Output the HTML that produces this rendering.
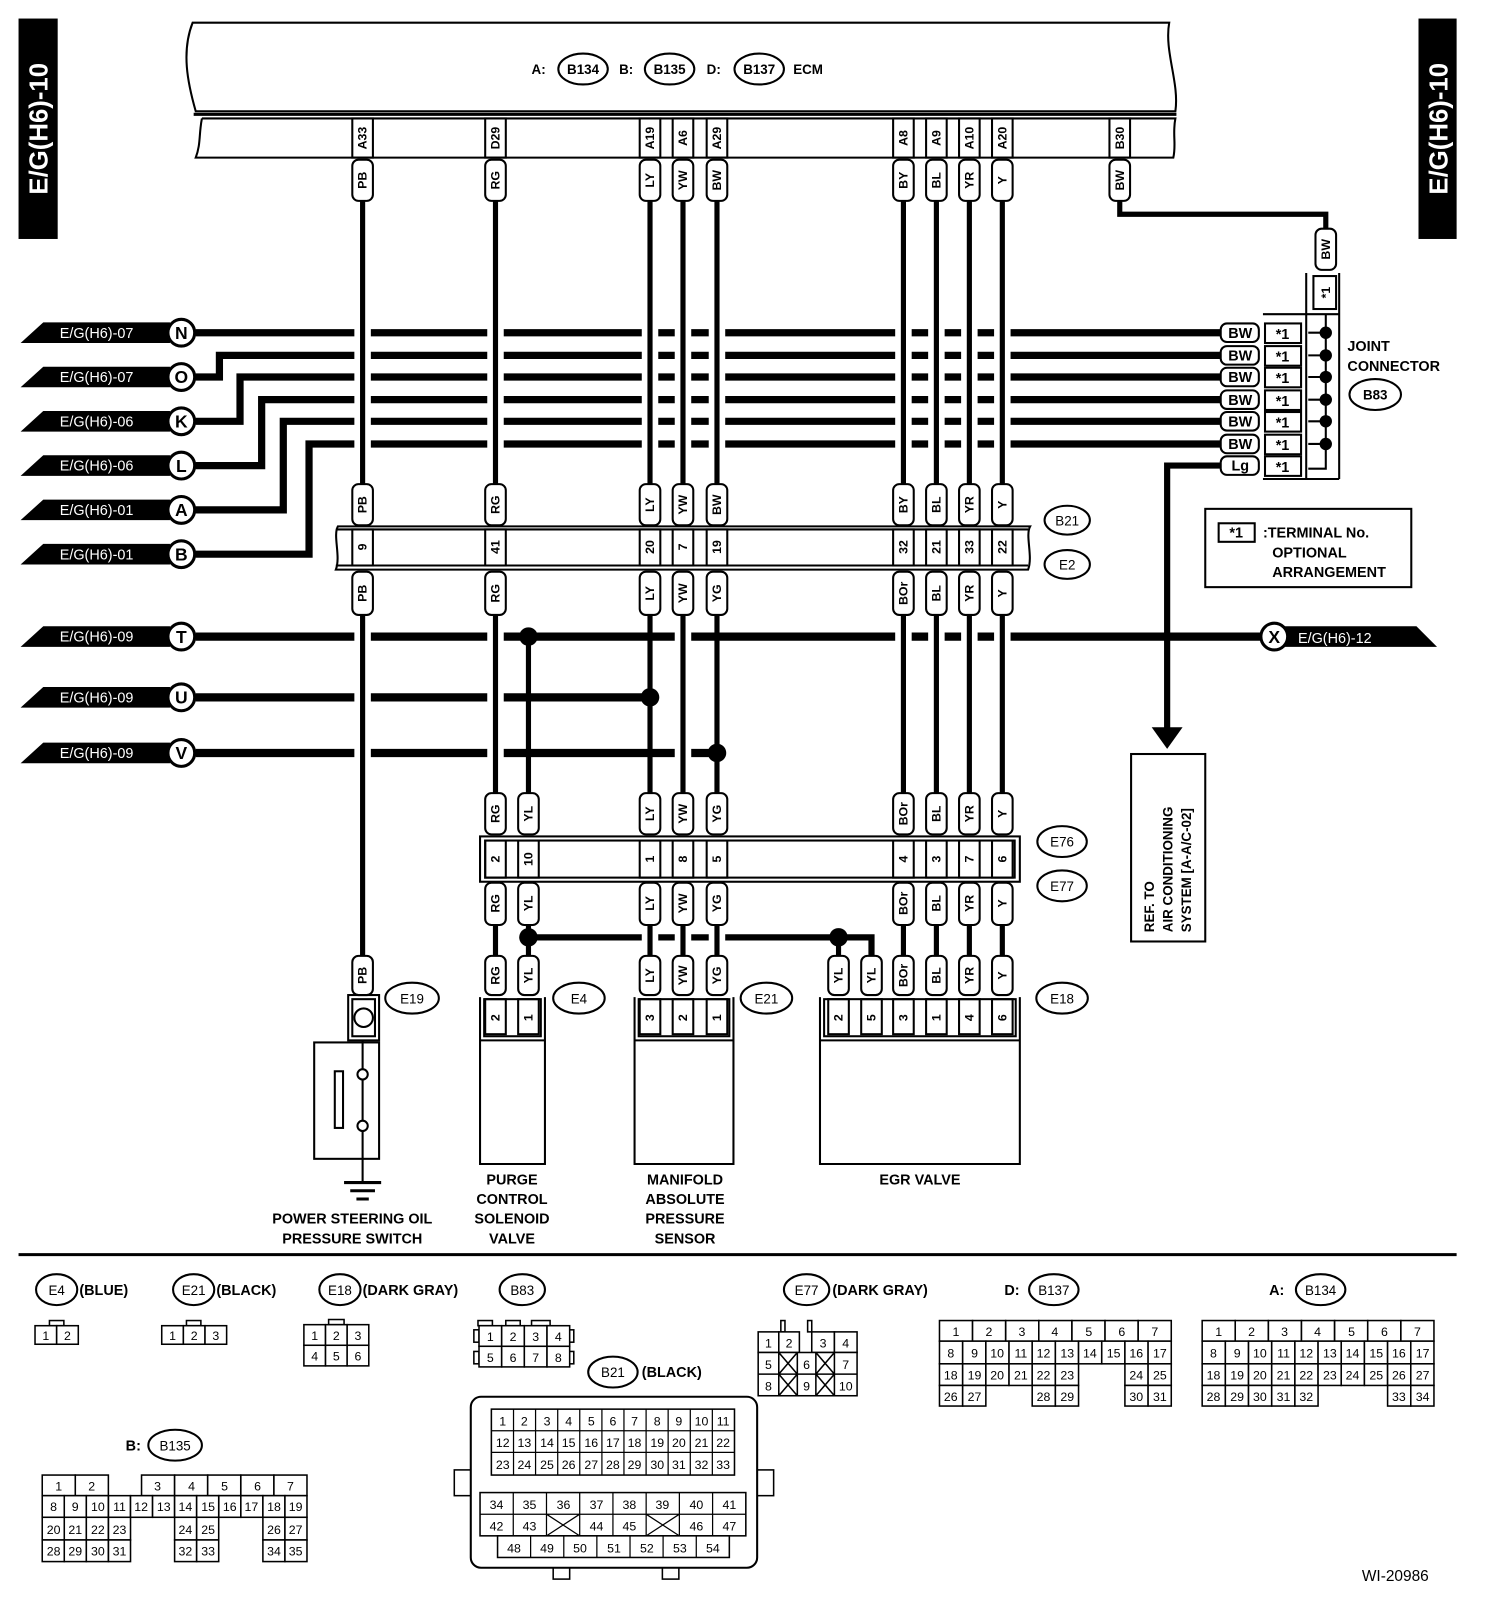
<!DOCTYPE html>
<html><head><meta charset="utf-8"><style>
html,body{margin:0;padding:0;background:#fff}
svg{display:block}
text{font-family:"Liberation Sans",sans-serif;fill:#000}
.t{fill:#fff;stroke:#000;stroke-width:2}
.tx{font-size:12px;font-weight:bold}
.w{stroke:#000;stroke-width:5;fill:none}
.u{stroke:#fff;stroke-width:16;fill:none}
.h{stroke:#000;stroke-width:7;fill:none}
.b{fill:none;stroke:#000;stroke-width:2}
.c{fill:#fff;stroke:#000;stroke-width:1.5}
.g text{font-size:12px;text-anchor:middle}
</style></head><body>
<svg width="1504" height="1610" viewBox="0 0 1460 1563" preserveAspectRatio="none" xmlns="http://www.w3.org/2000/svg">
<!-- side title boxes -->
<rect x="18" y="18" width="38" height="214" fill="#000"/>
<text transform="translate(46,125) rotate(-90)" text-anchor="middle" style="font-size:25px;font-weight:bold;fill:#fff">E/G(H6)-10</text>
<rect x="1377" y="18" width="37" height="214" fill="#000"/>
<text transform="translate(1405,125) rotate(-90)" text-anchor="middle" style="font-size:25px;font-weight:bold;fill:#fff">E/G(H6)-10</text>

<!-- ECM -->
<path d="M187,22 L1135,22 C1130,50 1145,80 1141,108 L190,108 C182,80 176,50 187,22 Z" class="b"/>
<line x1="188" y1="111" x2="1142" y2="111" stroke="#000" stroke-width="3"/>
<path d="M196,115 L1141,115 C1138,130 1142,140 1139,153 L190,153 C195,140 193,130 196,115" class="b"/>
<g font-size="13" font-weight="bold">
<text x="516" y="72">A:</text><ellipse cx="566" cy="67" rx="24" ry="15" class="b"/><text x="566" y="72" text-anchor="middle">B134</text>
<text x="601" y="72">B:</text><ellipse cx="650" cy="67" rx="24" ry="15" class="b"/><text x="650" y="72" text-anchor="middle">B135</text>
<text x="686" y="72">D:</text><ellipse cx="737" cy="67" rx="24" ry="15" class="b"/><text x="737" y="72" text-anchor="middle">B137</text>
<text x="770" y="72">ECM</text>
</g>
<g class="b">
<rect x="342" y="115" width="20" height="38"/><rect x="471" y="115" width="20" height="38"/>
<rect x="621" y="115" width="20" height="38"/><rect x="653" y="115" width="20" height="38"/><rect x="686" y="115" width="20" height="38"/>
<rect x="867" y="115" width="20" height="38"/><rect x="899" y="115" width="20" height="38"/><rect x="931" y="115" width="20" height="38"/><rect x="963" y="115" width="20" height="38"/>
<rect x="1077" y="115" width="20" height="38"/>
</g>
<g class="tx" text-anchor="middle">
<text transform="translate(356,134) rotate(-90)">A33</text><text transform="translate(485,134) rotate(-90)">D29</text>
<text transform="translate(635,134) rotate(-90)">A19</text><text transform="translate(667,134) rotate(-90)">A6</text><text transform="translate(700,134) rotate(-90)">A29</text>
<text transform="translate(881,134) rotate(-90)">A8</text><text transform="translate(913,134) rotate(-90)">A9</text><text transform="translate(945,134) rotate(-90)">A10</text><text transform="translate(977,134) rotate(-90)">A20</text>
<text transform="translate(1091,134) rotate(-90)">B30</text>
</g>

<!-- horizontal bus lines (upper) -->
<path class="h" d="M190,323 H1185"/>
<path class="h" d="M190,366 H213 V345 H1185"/>
<path class="h" d="M190,409 H233 V366 H1185"/>
<path class="h" d="M190,452 H254 V388 H1185"/>
<path class="h" d="M190,495 H275 V409 H1185"/>
<path class="h" d="M190,538 H300 V431 H1185"/>
<path class="h" d="M1185,452 H1133 V708" style="stroke-width:6"/>
<polygon points="1118,706 1148,706 1133,727" fill="#000"/>
<!-- lower bus lines -->
<path class="h" d="M190,618 H1250" style="stroke-width:8"/>
<path class="h" d="M190,677 H631" style="stroke-width:8"/>
<path class="h" d="M190,731 H696" style="stroke-width:8"/>
<path class="h" d="M513,910 H846 V928" style="stroke-width:6"/>

<!-- vertical wires with white underlay -->
<g class="u">
<path d="M352,195V470M481,195V470M631,195V470M663,195V470M696,195V470M877,195V470M909,195V470M941,195V470M973,195V470"/>
<path d="M352,597V928M481,597V770M663,597V770M877,597V770M909,597V770M941,597V770M973,597V770"/>
<path d="M631,898V928M663,898V928M696,898V928"/>
</g>
<g class="w">
<path d="M352,195V470M481,195V470M631,195V470M663,195V470M696,195V470M877,195V470M909,195V470M941,195V470M973,195V470"/>
<path d="M352,597V928M481,597V770M513,618V770M631,597V770M663,597V770M696,597V770M877,597V770M909,597V770M941,597V770M973,597V770"/>
<path d="M481,898V928M513,898V928M631,898V928M663,898V928M696,898V928M814,910V928M877,898V928M909,898V928M941,898V928M973,898V928"/>
<path d="M1087,195V208H1287V222"/>
</g>
<g fill="#000">
<circle cx="513" cy="618" r="9"/><circle cx="631" cy="677" r="9"/><circle cx="696" cy="731" r="9"/>
<circle cx="513" cy="910" r="9"/><circle cx="814" cy="910" r="9"/>
</g>

<!-- left pennants -->
<g>
<polygon points="20,333 42,313 165,313 165,333" fill="#000"/><text x="58" y="328" style="font-size:14px;fill:#fff">E/G(H6)-07</text><circle cx="176" cy="323" r="13" class="c" style="stroke-width:3"/><text x="176" y="329" text-anchor="middle" style="font-size:17px;font-weight:bold">N</text>
<polygon points="20,376 42,356 165,356 165,376" fill="#000"/><text x="58" y="371" style="font-size:14px;fill:#fff">E/G(H6)-07</text><circle cx="176" cy="366" r="13" class="c" style="stroke-width:3"/><text x="176" y="372" text-anchor="middle" style="font-size:17px;font-weight:bold">O</text>
<polygon points="20,419 42,399 165,399 165,419" fill="#000"/><text x="58" y="414" style="font-size:14px;fill:#fff">E/G(H6)-06</text><circle cx="176" cy="409" r="13" class="c" style="stroke-width:3"/><text x="176" y="415" text-anchor="middle" style="font-size:17px;font-weight:bold">K</text>
<polygon points="20,462 42,442 165,442 165,462" fill="#000"/><text x="58" y="457" style="font-size:14px;fill:#fff">E/G(H6)-06</text><circle cx="176" cy="452" r="13" class="c" style="stroke-width:3"/><text x="176" y="458" text-anchor="middle" style="font-size:17px;font-weight:bold">L</text>
<polygon points="20,505 42,485 165,485 165,505" fill="#000"/><text x="58" y="500" style="font-size:14px;fill:#fff">E/G(H6)-01</text><circle cx="176" cy="495" r="13" class="c" style="stroke-width:3"/><text x="176" y="501" text-anchor="middle" style="font-size:17px;font-weight:bold">A</text>
<polygon points="20,548 42,528 165,528 165,548" fill="#000"/><text x="58" y="543" style="font-size:14px;fill:#fff">E/G(H6)-01</text><circle cx="176" cy="538" r="13" class="c" style="stroke-width:3"/><text x="176" y="544" text-anchor="middle" style="font-size:17px;font-weight:bold">B</text>
<polygon points="20,628 42,608 165,608 165,628" fill="#000"/><text x="58" y="623" style="font-size:14px;fill:#fff">E/G(H6)-09</text><circle cx="176" cy="618" r="13" class="c" style="stroke-width:3"/><text x="176" y="624" text-anchor="middle" style="font-size:17px;font-weight:bold">T</text>
<polygon points="20,687 42,667 165,667 165,687" fill="#000"/><text x="58" y="682" style="font-size:14px;fill:#fff">E/G(H6)-09</text><circle cx="176" cy="677" r="13" class="c" style="stroke-width:3"/><text x="176" y="683" text-anchor="middle" style="font-size:17px;font-weight:bold">U</text>
<polygon points="20,741 42,721 165,721 165,741" fill="#000"/><text x="58" y="736" style="font-size:14px;fill:#fff">E/G(H6)-09</text><circle cx="176" cy="731" r="13" class="c" style="stroke-width:3"/><text x="176" y="737" text-anchor="middle" style="font-size:17px;font-weight:bold">V</text>
<!-- right pennant X -->
<polygon points="1245,608 1375,608 1395,628 1245,628" fill="#000"/><text x="1260" y="624" style="font-size:14px;fill:#fff">E/G(H6)-12</text>
<circle cx="1237" cy="618" r="13" class="c" style="stroke-width:3"/><text x="1237" y="624" text-anchor="middle" style="font-size:17px;font-weight:bold">X</text>
</g>

<!-- B21/E2 connector -->
<path d="M328,511 H1000 C995,520 1003,540 998,553 H326 C331,540 323,520 328,511 Z" fill="#fff" stroke="#000" stroke-width="2"/>
<line x1="326" y1="514" x2="998" y2="514" stroke="#000" stroke-width="2"/>
<line x1="326" y1="549" x2="998" y2="549" stroke="#000" stroke-width="2"/>
<g class="b">
<rect x="342" y="514" width="20" height="35"/><rect x="471" y="514" width="20" height="35"/><rect x="621" y="514" width="20" height="35"/><rect x="653" y="514" width="20" height="35"/><rect x="686" y="514" width="20" height="35"/><rect x="867" y="514" width="20" height="35"/><rect x="899" y="514" width="20" height="35"/><rect x="931" y="514" width="20" height="35"/><rect x="963" y="514" width="20" height="35"/>
</g>
<g class="tx" text-anchor="middle">
<text transform="translate(356,531) rotate(-90)">9</text><text transform="translate(485,531) rotate(-90)">41</text><text transform="translate(635,531) rotate(-90)">20</text><text transform="translate(667,531) rotate(-90)">7</text><text transform="translate(700,531) rotate(-90)">19</text><text transform="translate(881,531) rotate(-90)">32</text><text transform="translate(913,531) rotate(-90)">21</text><text transform="translate(945,531) rotate(-90)">33</text><text transform="translate(977,531) rotate(-90)">22</text>
</g>
<ellipse cx="1036" cy="505" rx="22" ry="14" class="b"/><text x="1036" y="510" text-anchor="middle" style="font-size:13px">B21</text>
<ellipse cx="1036" cy="548" rx="22" ry="14" class="b"/><text x="1036" y="553" text-anchor="middle" style="font-size:13px">E2</text>

<!-- E76/E77 connector -->
<rect x="466" y="812" width="524" height="44" class="b"/>
<rect x="471" y="816" width="514" height="36" class="b"/>
<g class="b">
<rect x="471" y="816" width="20" height="36"/><rect x="503" y="816" width="20" height="36"/><rect x="621" y="816" width="20" height="36"/><rect x="653" y="816" width="20" height="36"/><rect x="686" y="816" width="20" height="36"/><rect x="867" y="816" width="20" height="36"/><rect x="899" y="816" width="20" height="36"/><rect x="931" y="816" width="20" height="36"/><rect x="963" y="816" width="20" height="36"/>
</g>
<g class="tx" text-anchor="middle">
<text transform="translate(485,834) rotate(-90)">2</text><text transform="translate(517,834) rotate(-90)">10</text><text transform="translate(635,834) rotate(-90)">1</text><text transform="translate(667,834) rotate(-90)">8</text><text transform="translate(700,834) rotate(-90)">5</text><text transform="translate(881,834) rotate(-90)">4</text><text transform="translate(913,834) rotate(-90)">3</text><text transform="translate(945,834) rotate(-90)">7</text><text transform="translate(977,834) rotate(-90)">6</text>
</g>
<ellipse cx="1031" cy="817" rx="24" ry="15" class="b"/><text x="1031" y="822" text-anchor="middle" style="font-size:13px">E76</text>
<ellipse cx="1031" cy="860" rx="24" ry="15" class="b"/><text x="1031" y="865" text-anchor="middle" style="font-size:13px">E77</text>

<!-- tags -->
<g class="t">
<!-- row A -->
<rect x="342" y="155" width="20" height="40" rx="6"/><rect x="471" y="155" width="20" height="40" rx="6"/><rect x="621" y="155" width="20" height="40" rx="6"/><rect x="653" y="155" width="20" height="40" rx="6"/><rect x="686" y="155" width="20" height="40" rx="6"/><rect x="867" y="155" width="20" height="40" rx="6"/><rect x="899" y="155" width="20" height="40" rx="6"/><rect x="931" y="155" width="20" height="40" rx="6"/><rect x="963" y="155" width="20" height="40" rx="6"/><rect x="1077" y="155" width="20" height="40" rx="6"/>
<!-- row B -->
<rect x="342" y="470" width="20" height="40" rx="6"/><rect x="471" y="470" width="20" height="40" rx="6"/><rect x="621" y="470" width="20" height="40" rx="6"/><rect x="653" y="470" width="20" height="40" rx="6"/><rect x="686" y="470" width="20" height="40" rx="6"/><rect x="867" y="470" width="20" height="40" rx="6"/><rect x="899" y="470" width="20" height="40" rx="6"/><rect x="931" y="470" width="20" height="40" rx="6"/><rect x="963" y="470" width="20" height="40" rx="6"/>
<!-- row C -->
<rect x="342" y="555" width="20" height="42" rx="6"/><rect x="471" y="555" width="20" height="42" rx="6"/><rect x="621" y="555" width="20" height="42" rx="6"/><rect x="653" y="555" width="20" height="42" rx="6"/><rect x="686" y="555" width="20" height="42" rx="6"/><rect x="867" y="555" width="20" height="42" rx="6"/><rect x="899" y="555" width="20" height="42" rx="6"/><rect x="931" y="555" width="20" height="42" rx="6"/><rect x="963" y="555" width="20" height="42" rx="6"/>
<!-- row D -->
<rect x="471" y="770" width="20" height="40" rx="6"/><rect x="503" y="770" width="20" height="40" rx="6"/><rect x="621" y="770" width="20" height="40" rx="6"/><rect x="653" y="770" width="20" height="40" rx="6"/><rect x="686" y="770" width="20" height="40" rx="6"/><rect x="867" y="770" width="20" height="40" rx="6"/><rect x="899" y="770" width="20" height="40" rx="6"/><rect x="931" y="770" width="20" height="40" rx="6"/><rect x="963" y="770" width="20" height="40" rx="6"/>
<!-- row E -->
<rect x="471" y="857" width="20" height="41" rx="6"/><rect x="503" y="857" width="20" height="41" rx="6"/><rect x="621" y="857" width="20" height="41" rx="6"/><rect x="653" y="857" width="20" height="41" rx="6"/><rect x="686" y="857" width="20" height="41" rx="6"/><rect x="867" y="857" width="20" height="41" rx="6"/><rect x="899" y="857" width="20" height="41" rx="6"/><rect x="931" y="857" width="20" height="41" rx="6"/><rect x="963" y="857" width="20" height="41" rx="6"/>
<!-- row F -->
<rect x="342" y="928" width="20" height="38" rx="6"/><rect x="471" y="928" width="20" height="38" rx="6"/><rect x="503" y="928" width="20" height="38" rx="6"/><rect x="621" y="928" width="20" height="38" rx="6"/><rect x="653" y="928" width="20" height="38" rx="6"/><rect x="686" y="928" width="20" height="38" rx="6"/><rect x="804" y="928" width="20" height="38" rx="6"/><rect x="836" y="928" width="20" height="38" rx="6"/><rect x="867" y="928" width="20" height="38" rx="6"/><rect x="899" y="928" width="20" height="38" rx="6"/><rect x="931" y="928" width="20" height="38" rx="6"/><rect x="963" y="928" width="20" height="38" rx="6"/>
<rect x="1277" y="222" width="20" height="40" rx="6"/>
</g>
<g class="tx" text-anchor="middle">
<text transform="translate(356,175) rotate(-90)">PB</text><text transform="translate(485,175) rotate(-90)">RG</text><text transform="translate(635,175) rotate(-90)">LY</text><text transform="translate(667,175) rotate(-90)">YW</text><text transform="translate(700,175) rotate(-90)">BW</text><text transform="translate(881,175) rotate(-90)">BY</text><text transform="translate(913,175) rotate(-90)">BL</text><text transform="translate(945,175) rotate(-90)">YR</text><text transform="translate(977,175) rotate(-90)">Y</text><text transform="translate(1091,175) rotate(-90)">BW</text>
<text transform="translate(356,490) rotate(-90)">PB</text><text transform="translate(485,490) rotate(-90)">RG</text><text transform="translate(635,490) rotate(-90)">LY</text><text transform="translate(667,490) rotate(-90)">YW</text><text transform="translate(700,490) rotate(-90)">BW</text><text transform="translate(881,490) rotate(-90)">BY</text><text transform="translate(913,490) rotate(-90)">BL</text><text transform="translate(945,490) rotate(-90)">YR</text><text transform="translate(977,490) rotate(-90)">Y</text>
<text transform="translate(356,576) rotate(-90)">PB</text><text transform="translate(485,576) rotate(-90)">RG</text><text transform="translate(635,576) rotate(-90)">LY</text><text transform="translate(667,576) rotate(-90)">YW</text><text transform="translate(700,576) rotate(-90)">YG</text><text transform="translate(881,576) rotate(-90)">BOr</text><text transform="translate(913,576) rotate(-90)">BL</text><text transform="translate(945,576) rotate(-90)">YR</text><text transform="translate(977,576) rotate(-90)">Y</text>
<text transform="translate(485,790) rotate(-90)">RG</text><text transform="translate(517,790) rotate(-90)">YL</text><text transform="translate(635,790) rotate(-90)">LY</text><text transform="translate(667,790) rotate(-90)">YW</text><text transform="translate(700,790) rotate(-90)">YG</text><text transform="translate(881,790) rotate(-90)">BOr</text><text transform="translate(913,790) rotate(-90)">BL</text><text transform="translate(945,790) rotate(-90)">YR</text><text transform="translate(977,790) rotate(-90)">Y</text>
<text transform="translate(485,877) rotate(-90)">RG</text><text transform="translate(517,877) rotate(-90)">YL</text><text transform="translate(635,877) rotate(-90)">LY</text><text transform="translate(667,877) rotate(-90)">YW</text><text transform="translate(700,877) rotate(-90)">YG</text><text transform="translate(881,877) rotate(-90)">BOr</text><text transform="translate(913,877) rotate(-90)">BL</text><text transform="translate(945,877) rotate(-90)">YR</text><text transform="translate(977,877) rotate(-90)">Y</text>
<text transform="translate(356,947) rotate(-90)">PB</text><text transform="translate(485,947) rotate(-90)">RG</text><text transform="translate(517,947) rotate(-90)">YL</text><text transform="translate(635,947) rotate(-90)">LY</text><text transform="translate(667,947) rotate(-90)">YW</text><text transform="translate(700,947) rotate(-90)">YG</text><text transform="translate(818,947) rotate(-90)">YL</text><text transform="translate(850,947) rotate(-90)">YL</text><text transform="translate(881,947) rotate(-90)">BOr</text><text transform="translate(913,947) rotate(-90)">BL</text><text transform="translate(945,947) rotate(-90)">YR</text><text transform="translate(977,947) rotate(-90)">Y</text>
<text transform="translate(1291,242) rotate(-90)">BW</text>
</g>

<!-- joint connector B83 -->
<path class="b" d="M1268,265 V465 M1300,265 V465 M1226,305 H1300 M1226,465 H1300"/>
<rect x="1275" y="268" width="22" height="32" class="b"/>
<text transform="translate(1291,284) rotate(-90)" text-anchor="middle" class="tx">*1</text>
<g class="t">
<rect x="1185" y="314" width="37" height="18" rx="6"/><rect x="1185" y="336" width="37" height="18" rx="6"/><rect x="1185" y="357" width="37" height="18" rx="6"/><rect x="1185" y="379" width="37" height="18" rx="6"/><rect x="1185" y="400" width="37" height="18" rx="6"/><rect x="1185" y="422" width="37" height="18" rx="6"/><rect x="1185" y="443" width="37" height="18" rx="6"/>
<rect x="1228" y="314" width="35" height="19"/><rect x="1228" y="336" width="35" height="19"/><rect x="1228" y="357" width="35" height="19"/><rect x="1228" y="379" width="35" height="19"/><rect x="1228" y="400" width="35" height="19"/><rect x="1228" y="422" width="35" height="19"/><rect x="1228" y="443" width="35" height="19"/>
</g>
<g style="font-size:14px;font-weight:bold" text-anchor="middle">
<text x="1204" y="328">BW</text><text x="1204" y="350">BW</text><text x="1204" y="371">BW</text><text x="1204" y="393">BW</text><text x="1204" y="414">BW</text><text x="1204" y="436">BW</text><text x="1204" y="457">Lg</text>
<text x="1245" y="329">*1</text><text x="1245" y="351">*1</text><text x="1245" y="372">*1</text><text x="1245" y="394">*1</text><text x="1245" y="415">*1</text><text x="1245" y="437">*1</text><text x="1245" y="458">*1</text>
</g>
<path class="b" d="M1287,305 V455 H1270 M1270,323 H1287 M1270,345 H1287 M1270,366 H1287 M1270,388 H1287 M1270,409 H1287 M1270,431 H1287"/>
<g fill="#000"><circle cx="1287" cy="323" r="6"/><circle cx="1287" cy="345" r="6"/><circle cx="1287" cy="366" r="6"/><circle cx="1287" cy="388" r="6"/><circle cx="1287" cy="409" r="6"/><circle cx="1287" cy="431" r="6"/></g>
<g style="font-size:14px;font-weight:bold"><text x="1308" y="341">JOINT</text><text x="1308" y="360">CONNECTOR</text></g>
<ellipse cx="1335" cy="383" rx="25" ry="15" class="b"/><text x="1335" y="388" text-anchor="middle" style="font-size:13px;font-weight:bold">B83</text>

<!-- note box -->
<rect x="1170" y="494" width="200" height="76" class="b"/>
<rect x="1183" y="508" width="35" height="18" class="b"/><text x="1200" y="522" text-anchor="middle" style="font-size:14px;font-weight:bold">*1</text>
<g style="font-size:14px;font-weight:bold"><text x="1226" y="522">:TERMINAL No.</text><text x="1235" y="541">OPTIONAL</text><text x="1235" y="560">ARRANGEMENT</text></g>

<!-- ref box -->
<rect x="1098" y="732" width="72" height="182" class="b"/>
<g style="font-size:13px;font-weight:bold">
<text transform="translate(1120,905) rotate(-90)">REF. TO</text>
<text transform="translate(1138,905) rotate(-90)">AIR CONDITIONING</text>
<text transform="translate(1156,905) rotate(-90)">SYSTEM [A-A/C-02]</text>
</g>

<!-- E19 & power steering switch -->
<rect x="338" y="966" width="30" height="44" class="b"/>
<rect x="342" y="970" width="22" height="36" class="b"/>
<circle cx="353" cy="988" r="9" class="b"/>
<ellipse cx="400" cy="969" rx="26" ry="15" class="b"/><text x="400" y="974" text-anchor="middle" style="font-size:13px">E19</text>
<rect x="305" y="1012" width="63" height="113" class="b"/>
<rect x="325" y="1040" width="8" height="55" class="b"/>
<path class="b" d="M352,1010 V1038 M352,1048 V1088 M352,1098 V1148"/>
<circle cx="352" cy="1043" r="5" class="c" style="stroke-width:2"/><circle cx="352" cy="1093" r="5" class="c" style="stroke-width:2"/>
<path stroke="#000" stroke-width="3" d="M334,1148 H370 M340,1156 H364 M346,1164 H358"/>

<!-- E4 -->
<path class="b" d="M466,968 V1130 H529 V968"/>
<rect x="470" y="970" width="55" height="36" class="b"/>
<rect x="471" y="970" width="20" height="34" class="b"/><rect x="503" y="970" width="20" height="34" class="b"/>
<line x1="466" y1="1010" x2="529" y2="1010" stroke="#000" stroke-width="2"/>
<ellipse cx="562" cy="969" rx="25" ry="15" class="b"/><text x="562" y="974" text-anchor="middle" style="font-size:13px">E4</text>
<!-- E21 -->
<path class="b" d="M616,968 V1130 H712 V968"/>
<rect x="620" y="970" width="88" height="36" class="b"/>
<rect x="621" y="970" width="20" height="34" class="b"/><rect x="653" y="970" width="20" height="34" class="b"/><rect x="686" y="970" width="20" height="34" class="b"/>
<line x1="616" y1="1010" x2="712" y2="1010" stroke="#000" stroke-width="2"/>
<ellipse cx="744" cy="969" rx="25" ry="15" class="b"/><text x="744" y="974" text-anchor="middle" style="font-size:13px">E21</text>
<!-- E18 -->
<path class="b" d="M796,968 V1130 H990 V968"/>
<rect x="800" y="970" width="186" height="36" class="b"/>
<rect x="804" y="970" width="20" height="34" class="b"/><rect x="836" y="970" width="20" height="34" class="b"/><rect x="867" y="970" width="20" height="34" class="b"/><rect x="899" y="970" width="20" height="34" class="b"/><rect x="931" y="970" width="20" height="34" class="b"/><rect x="963" y="970" width="20" height="34" class="b"/>
<line x1="796" y1="1010" x2="990" y2="1010" stroke="#000" stroke-width="2"/>
<ellipse cx="1031" cy="969" rx="25" ry="15" class="b"/><text x="1031" y="974" text-anchor="middle" style="font-size:13px">E18</text>
<g class="tx" text-anchor="middle">
<text transform="translate(485,988) rotate(-90)">2</text><text transform="translate(517,988) rotate(-90)">1</text>
<text transform="translate(635,988) rotate(-90)">3</text><text transform="translate(667,988) rotate(-90)">2</text><text transform="translate(700,988) rotate(-90)">1</text>
<text transform="translate(818,988) rotate(-90)">2</text><text transform="translate(850,988) rotate(-90)">5</text><text transform="translate(881,988) rotate(-90)">3</text><text transform="translate(913,988) rotate(-90)">1</text><text transform="translate(945,988) rotate(-90)">4</text><text transform="translate(977,988) rotate(-90)">6</text>
</g>

<!-- component labels -->
<g style="font-size:14px;font-weight:bold" text-anchor="middle">
<text x="342" y="1188">POWER STEERING OIL</text><text x="342" y="1207">PRESSURE SWITCH</text>
<text x="497" y="1150">PURGE</text><text x="497" y="1169">CONTROL</text><text x="497" y="1188">SOLENOID</text><text x="497" y="1207">VALVE</text>
<text x="665" y="1150">MANIFOLD</text><text x="665" y="1169">ABSOLUTE</text><text x="665" y="1188">PRESSURE</text><text x="665" y="1207">SENSOR</text>
<text x="893" y="1150">EGR VALVE</text>
</g>

<line x1="18" y1="1218" x2="1414" y2="1218" stroke="#000" stroke-width="3"/>

<!-- connector legend -->
<g style="font-size:14px;font-weight:bold">
<ellipse cx="55" cy="1252" rx="20" ry="15" class="b"/><text x="55" y="1257" text-anchor="middle" style="font-size:13px;font-weight:normal">E4</text><text x="77" y="1257">(BLUE)</text>
<ellipse cx="188" cy="1252" rx="20" ry="15" class="b"/><text x="188" y="1257" text-anchor="middle" style="font-size:13px;font-weight:normal">E21</text><text x="210" y="1257">(BLACK)</text>
<ellipse cx="330" cy="1252" rx="20" ry="15" class="b"/><text x="330" y="1257" text-anchor="middle" style="font-size:13px;font-weight:normal">E18</text><text x="352" y="1257">(DARK GRAY)</text>
<ellipse cx="507" cy="1252" rx="22" ry="15" class="b"/><text x="507" y="1257" text-anchor="middle" style="font-size:13px;font-weight:normal">B83</text>
<ellipse cx="783" cy="1252" rx="22" ry="15" class="b"/><text x="783" y="1257" text-anchor="middle" style="font-size:13px;font-weight:normal">E77</text><text x="808" y="1257">(DARK GRAY)</text>
<text x="975" y="1257">D:</text><ellipse cx="1023" cy="1252" rx="24" ry="15" class="b"/><text x="1023" y="1257" text-anchor="middle" style="font-size:13px;font-weight:normal">B137</text>
<text x="1232" y="1257">A:</text><ellipse cx="1282" cy="1252" rx="24" ry="15" class="b"/><text x="1282" y="1257" text-anchor="middle" style="font-size:13px;font-weight:normal">B134</text>
<ellipse cx="595" cy="1332" rx="24" ry="15" class="b"/><text x="595" y="1337" text-anchor="middle" style="font-size:13px;font-weight:normal">B21</text><text x="623" y="1337">(BLACK)</text>
<text x="122" y="1408">B:</text><ellipse cx="170" cy="1403" rx="26" ry="15" class="b"/><text x="170" y="1408" text-anchor="middle" style="font-size:13px;font-weight:normal">B135</text>
<text x="1322" y="1535" style="font-weight:normal;font-size:15px">WI-20986</text>
</g>

<g class="g">
<!-- E4 -->
<rect x="48" y="1282" width="14" height="5" class="c"/>
<rect x="34" y="1287" width="21" height="18" class="c"/><rect x="55" y="1287" width="21" height="18" class="c"/>
<text x="44.5" y="1301">1</text><text x="65.5" y="1301">2</text>
<!-- E21 -->
<rect x="181" y="1282" width="14" height="5" class="c"/>
<rect x="157" y="1287" width="21" height="18" class="c"/><rect x="178" y="1287" width="21" height="18" class="c"/><rect x="199" y="1287" width="21" height="18" class="c"/>
<text x="167.5" y="1301">1</text><text x="188.5" y="1301">2</text><text x="209.5" y="1301">3</text>
<!-- E18 -->
<rect x="319" y="1281" width="15" height="5" class="c"/>
<rect x="295" y="1286" width="21" height="20" class="c"/><rect x="316" y="1286" width="21" height="20" class="c"/><rect x="337" y="1286" width="21" height="20" class="c"/>
<rect x="295" y="1306" width="21" height="20" class="c"/><rect x="316" y="1306" width="21" height="20" class="c"/><rect x="337" y="1306" width="21" height="20" class="c"/>
<text x="305.5" y="1301">1</text><text x="326.5" y="1301">2</text><text x="347.5" y="1301">3</text><text x="305.5" y="1321">4</text><text x="326.5" y="1321">5</text><text x="347.5" y="1321">6</text>
<!-- B83 -->
<rect x="464" y="1282" width="14" height="5" class="c"/><rect x="491" y="1282" width="14" height="5" class="c"/><rect x="516" y="1282" width="18" height="5" class="c"/>
<rect x="460" y="1291" width="5" height="12" class="c"/><rect x="552" y="1291" width="5" height="12" class="c"/><rect x="460" y="1312" width="5" height="12" class="c"/><rect x="552" y="1312" width="5" height="12" class="c"/>
<rect x="465" y="1287" width="22" height="20" class="c"/><rect x="487" y="1287" width="22" height="20" class="c"/><rect x="509" y="1287" width="22" height="20" class="c"/><rect x="531" y="1287" width="22" height="20" class="c"/>
<rect x="465" y="1307" width="22" height="20" class="c"/><rect x="487" y="1307" width="22" height="20" class="c"/><rect x="509" y="1307" width="22" height="20" class="c"/><rect x="531" y="1307" width="22" height="20" class="c"/>
<text x="476" y="1302">1</text><text x="498" y="1302">2</text><text x="520" y="1302">3</text><text x="542" y="1302">4</text><text x="476" y="1322">5</text><text x="498" y="1322">6</text><text x="520" y="1322">7</text><text x="542" y="1322">8</text>
<!-- E77 -->
<rect x="758" y="1282" width="4" height="11" class="c"/><rect x="784" y="1282" width="4" height="11" class="c"/>
<rect x="736" y="1293" width="20" height="20" class="c"/><rect x="756" y="1293" width="20" height="20" class="c"/><rect x="788" y="1293" width="22" height="20" class="c"/><rect x="810" y="1293" width="22" height="20" class="c"/>
<rect x="736" y="1313" width="96" height="42" class="c"/>
<path class="b" style="stroke-width:1.5" d="M736,1334 H832 M756,1313 V1355 M774,1313 V1355 M792,1313 V1355 M810,1313 V1355 M756,1313 L774,1334 M774,1313 L756,1334 M756,1334 L774,1355 M774,1334 L756,1355 M792,1313 L810,1334 M810,1313 L792,1334 M792,1334 L810,1355 M810,1334 L792,1355"/>
<text x="746" y="1308">1</text><text x="766" y="1308">2</text><text x="799" y="1308">3</text><text x="821" y="1308">4</text>
<text x="746" y="1329">5</text><text x="783" y="1329">6</text><text x="821" y="1329">7</text>
<text x="746" y="1350">8</text><text x="783" y="1350">9</text><text x="821" y="1350">10</text>
</g>

<!-- D:B137 -->
<g class="g">
<rect x="912" y="1282" width="32.1" height="20" class="c"/><rect x="944.1" y="1282" width="32.1" height="20" class="c"/><rect x="976.3" y="1282" width="32.1" height="20" class="c"/><rect x="1008.4" y="1282" width="32.1" height="20" class="c"/><rect x="1040.6" y="1282" width="32.1" height="20" class="c"/><rect x="1072.7" y="1282" width="32.1" height="20" class="c"/><rect x="1104.9" y="1282" width="32.1" height="20" class="c"/>
<text x="928" y="1297">1</text><text x="960" y="1297">2</text><text x="992" y="1297">3</text><text x="1024" y="1297">4</text><text x="1057" y="1297">5</text><text x="1089" y="1297">6</text><text x="1121" y="1297">7</text>
<rect x="912" y="1302" width="22.5" height="22" class="c"/><rect x="934.5" y="1302" width="22.5" height="22" class="c"/><rect x="957" y="1302" width="22.5" height="22" class="c"/><rect x="979.5" y="1302" width="22.5" height="22" class="c"/><rect x="1002" y="1302" width="22.5" height="22" class="c"/><rect x="1024.5" y="1302" width="22.5" height="22" class="c"/><rect x="1047" y="1302" width="22.5" height="22" class="c"/><rect x="1069.5" y="1302" width="22.5" height="22" class="c"/><rect x="1092" y="1302" width="22.5" height="22" class="c"/><rect x="1114.5" y="1302" width="22.5" height="22" class="c"/>
<text x="923" y="1318">8</text><text x="946" y="1318">9</text><text x="968" y="1318">10</text><text x="991" y="1318">11</text><text x="1013" y="1318">12</text><text x="1036" y="1318">13</text><text x="1058" y="1318">14</text><text x="1081" y="1318">15</text><text x="1103" y="1318">16</text><text x="1126" y="1318">17</text>
<rect x="912" y="1324" width="22.5" height="21" class="c"/><rect x="934.5" y="1324" width="22.5" height="21" class="c"/><rect x="957" y="1324" width="22.5" height="21" class="c"/><rect x="979.5" y="1324" width="22.5" height="21" class="c"/><rect x="1002" y="1324" width="22.5" height="21" class="c"/><rect x="1024.5" y="1324" width="22.5" height="21" class="c"/><rect x="1092" y="1324" width="22.5" height="21" class="c"/><rect x="1114.5" y="1324" width="22.5" height="21" class="c"/>
<text x="923" y="1339">18</text><text x="946" y="1339">19</text><text x="968" y="1339">20</text><text x="991" y="1339">21</text><text x="1013" y="1339">22</text><text x="1036" y="1339">23</text><text x="1103" y="1339">24</text><text x="1126" y="1339">25</text>
<rect x="912" y="1345" width="22.5" height="20" class="c"/><rect x="934.5" y="1345" width="22.5" height="20" class="c"/><rect x="1002" y="1345" width="22.5" height="20" class="c"/><rect x="1024.5" y="1345" width="22.5" height="20" class="c"/><rect x="1092" y="1345" width="22.5" height="20" class="c"/><rect x="1114.5" y="1345" width="22.5" height="20" class="c"/>
<text x="923" y="1360">26</text><text x="946" y="1360">27</text><text x="1013" y="1360">28</text><text x="1036" y="1360">29</text><text x="1103" y="1360">30</text><text x="1126" y="1360">31</text>
</g>

<!-- A:B134 -->
<g class="g">
<rect x="1167" y="1282" width="32.1" height="20" class="c"/><rect x="1199.1" y="1282" width="32.1" height="20" class="c"/><rect x="1231.3" y="1282" width="32.1" height="20" class="c"/><rect x="1263.4" y="1282" width="32.1" height="20" class="c"/><rect x="1295.6" y="1282" width="32.1" height="20" class="c"/><rect x="1327.7" y="1282" width="32.1" height="20" class="c"/><rect x="1359.9" y="1282" width="32.1" height="20" class="c"/>
<text x="1183" y="1297">1</text><text x="1215" y="1297">2</text><text x="1247" y="1297">3</text><text x="1279" y="1297">4</text><text x="1312" y="1297">5</text><text x="1344" y="1297">6</text><text x="1376" y="1297">7</text>
<rect x="1167" y="1302" width="22.5" height="22" class="c"/><rect x="1189.5" y="1302" width="22.5" height="22" class="c"/><rect x="1212" y="1302" width="22.5" height="22" class="c"/><rect x="1234.5" y="1302" width="22.5" height="22" class="c"/><rect x="1257" y="1302" width="22.5" height="22" class="c"/><rect x="1279.5" y="1302" width="22.5" height="22" class="c"/><rect x="1302" y="1302" width="22.5" height="22" class="c"/><rect x="1324.5" y="1302" width="22.5" height="22" class="c"/><rect x="1347" y="1302" width="22.5" height="22" class="c"/><rect x="1369.5" y="1302" width="22.5" height="22" class="c"/>
<text x="1178" y="1318">8</text><text x="1201" y="1318">9</text><text x="1223" y="1318">10</text><text x="1246" y="1318">11</text><text x="1268" y="1318">12</text><text x="1291" y="1318">13</text><text x="1313" y="1318">14</text><text x="1336" y="1318">15</text><text x="1358" y="1318">16</text><text x="1381" y="1318">17</text>
<rect x="1167" y="1324" width="22.5" height="21" class="c"/><rect x="1189.5" y="1324" width="22.5" height="21" class="c"/><rect x="1212" y="1324" width="22.5" height="21" class="c"/><rect x="1234.5" y="1324" width="22.5" height="21" class="c"/><rect x="1257" y="1324" width="22.5" height="21" class="c"/><rect x="1279.5" y="1324" width="22.5" height="21" class="c"/><rect x="1302" y="1324" width="22.5" height="21" class="c"/><rect x="1324.5" y="1324" width="22.5" height="21" class="c"/><rect x="1347" y="1324" width="22.5" height="21" class="c"/><rect x="1369.5" y="1324" width="22.5" height="21" class="c"/>
<text x="1178" y="1339">18</text><text x="1201" y="1339">19</text><text x="1223" y="1339">20</text><text x="1246" y="1339">21</text><text x="1268" y="1339">22</text><text x="1291" y="1339">23</text><text x="1313" y="1339">24</text><text x="1336" y="1339">25</text><text x="1358" y="1339">26</text><text x="1381" y="1339">27</text>
<rect x="1167" y="1345" width="22.5" height="20" class="c"/><rect x="1189.5" y="1345" width="22.5" height="20" class="c"/><rect x="1212" y="1345" width="22.5" height="20" class="c"/><rect x="1234.5" y="1345" width="22.5" height="20" class="c"/><rect x="1257" y="1345" width="22.5" height="20" class="c"/><rect x="1347" y="1345" width="22.5" height="20" class="c"/><rect x="1369.5" y="1345" width="22.5" height="20" class="c"/>
<text x="1178" y="1360">28</text><text x="1201" y="1360">29</text><text x="1223" y="1360">30</text><text x="1246" y="1360">31</text><text x="1268" y="1360">32</text><text x="1358" y="1360">33</text><text x="1381" y="1360">34</text>
</g>

<!-- B:B135 -->
<g class="g">
<rect x="41" y="1432" width="32.1" height="20" class="c"/><rect x="73.1" y="1432" width="32.1" height="20" class="c"/><rect x="137.4" y="1432" width="32.1" height="20" class="c"/><rect x="169.5" y="1432" width="32.1" height="20" class="c"/><rect x="201.6" y="1432" width="32.1" height="20" class="c"/><rect x="233.8" y="1432" width="32.1" height="20" class="c"/><rect x="265.9" y="1432" width="32.1" height="20" class="c"/>
<text x="57" y="1447">1</text><text x="89" y="1447">2</text><text x="153" y="1447">3</text><text x="186" y="1447">4</text><text x="218" y="1447">5</text><text x="250" y="1447">6</text><text x="282" y="1447">7</text>
<rect x="41" y="1452" width="21.4" height="21" class="c"/><rect x="62.4" y="1452" width="21.4" height="21" class="c"/><rect x="83.8" y="1452" width="21.4" height="21" class="c"/><rect x="105.3" y="1452" width="21.4" height="21" class="c"/><rect x="126.7" y="1452" width="21.4" height="21" class="c"/><rect x="148.1" y="1452" width="21.4" height="21" class="c"/><rect x="169.5" y="1452" width="21.4" height="21" class="c"/><rect x="190.9" y="1452" width="21.4" height="21" class="c"/><rect x="212.4" y="1452" width="21.4" height="21" class="c"/><rect x="233.8" y="1452" width="21.4" height="21" class="c"/><rect x="255.2" y="1452" width="21.4" height="21" class="c"/><rect x="276.6" y="1452" width="21.4" height="21" class="c"/>
<text x="52" y="1467">8</text><text x="73" y="1467">9</text><text x="95" y="1467">10</text><text x="116" y="1467">11</text><text x="137" y="1467">12</text><text x="159" y="1467">13</text><text x="180" y="1467">14</text><text x="202" y="1467">15</text><text x="223" y="1467">16</text><text x="244" y="1467">17</text><text x="266" y="1467">18</text><text x="287" y="1467">19</text>
<rect x="41" y="1473" width="21.4" height="22" class="c"/><rect x="62.4" y="1473" width="21.4" height="22" class="c"/><rect x="83.8" y="1473" width="21.4" height="22" class="c"/><rect x="105.3" y="1473" width="21.4" height="22" class="c"/><rect x="169.5" y="1473" width="21.4" height="22" class="c"/><rect x="190.9" y="1473" width="21.4" height="22" class="c"/><rect x="255.2" y="1473" width="21.4" height="22" class="c"/><rect x="276.6" y="1473" width="21.4" height="22" class="c"/>
<text x="52" y="1489">20</text><text x="73" y="1489">21</text><text x="95" y="1489">22</text><text x="116" y="1489">23</text><text x="180" y="1489">24</text><text x="202" y="1489">25</text><text x="266" y="1489">26</text><text x="287" y="1489">27</text>
<rect x="41" y="1495" width="21.4" height="21" class="c"/><rect x="62.4" y="1495" width="21.4" height="21" class="c"/><rect x="83.8" y="1495" width="21.4" height="21" class="c"/><rect x="105.3" y="1495" width="21.4" height="21" class="c"/><rect x="169.5" y="1495" width="21.4" height="21" class="c"/><rect x="190.9" y="1495" width="21.4" height="21" class="c"/><rect x="255.2" y="1495" width="21.4" height="21" class="c"/><rect x="276.6" y="1495" width="21.4" height="21" class="c"/>
<text x="52" y="1510">28</text><text x="73" y="1510">29</text><text x="95" y="1510">30</text><text x="116" y="1510">31</text><text x="180" y="1510">32</text><text x="202" y="1510">33</text><text x="266" y="1510">34</text><text x="287" y="1510">35</text>
</g>

<!-- B21 big connector -->
<g class="g">
<rect x="441" y="1427" width="16" height="25" class="c"/><rect x="735" y="1427" width="16" height="25" class="c"/>
<rect x="537" y="1518" width="16" height="15" class="c"/><rect x="643" y="1518" width="16" height="15" class="c"/>
<rect x="457" y="1356" width="278" height="166" rx="10" class="c" style="stroke-width:2"/>
<rect x="477" y="1368" width="236" height="64" class="c"/>
<path class="b" style="stroke-width:1.2" d="M477,1389H713M477,1410H713M498.5,1368V1432M519.9,1368V1432M541.4,1368V1432M562.8,1368V1432M584.3,1368V1432M605.7,1368V1432M627.2,1368V1432M648.6,1368V1432M670.1,1368V1432M691.5,1368V1432"/>
<text x="488" y="1384">1</text><text x="509" y="1384">2</text><text x="531" y="1384">3</text><text x="552" y="1384">4</text><text x="574" y="1384">5</text><text x="595" y="1384">6</text><text x="616" y="1384">7</text><text x="638" y="1384">8</text><text x="659" y="1384">9</text><text x="681" y="1384">10</text><text x="702" y="1384">11</text>
<text x="488" y="1405">12</text><text x="509" y="1405">13</text><text x="531" y="1405">14</text><text x="552" y="1405">15</text><text x="574" y="1405">16</text><text x="595" y="1405">17</text><text x="616" y="1405">18</text><text x="638" y="1405">19</text><text x="659" y="1405">20</text><text x="681" y="1405">21</text><text x="702" y="1405">22</text>
<text x="488" y="1426">23</text><text x="509" y="1426">24</text><text x="531" y="1426">25</text><text x="552" y="1426">26</text><text x="574" y="1426">27</text><text x="595" y="1426">28</text><text x="616" y="1426">29</text><text x="638" y="1426">30</text><text x="659" y="1426">31</text><text x="681" y="1426">32</text><text x="702" y="1426">33</text>
<rect x="466" y="1449" width="258" height="42" class="c"/>
<rect x="483" y="1491" width="225" height="21" class="c"/>
<path class="b" style="stroke-width:1.2" d="M466,1470H724M498.25,1449V1491M530.5,1449V1491M562.75,1449V1491M595,1449V1491M627.25,1449V1491M659.5,1449V1491M691.75,1449V1491M515.1,1491V1512M547.3,1491V1512M579.4,1491V1512M611.6,1491V1512M643.7,1491V1512M675.9,1491V1512M530.5,1470L562.75,1491M562.75,1470L530.5,1491M627.25,1470L659.5,1491M659.5,1470L627.25,1491"/>
<text x="482" y="1465">34</text><text x="514" y="1465">35</text><text x="547" y="1465">36</text><text x="579" y="1465">37</text><text x="611" y="1465">38</text><text x="643" y="1465">39</text><text x="676" y="1465">40</text><text x="708" y="1465">41</text>
<text x="482" y="1486">42</text><text x="514" y="1486">43</text><text x="579" y="1486">44</text><text x="611" y="1486">45</text><text x="676" y="1486">46</text><text x="708" y="1486">47</text>
<text x="499" y="1507">48</text><text x="531" y="1507">49</text><text x="563" y="1507">50</text><text x="596" y="1507">51</text><text x="628" y="1507">52</text><text x="660" y="1507">53</text><text x="692" y="1507">54</text>
</g>
</svg>
</body></html>
